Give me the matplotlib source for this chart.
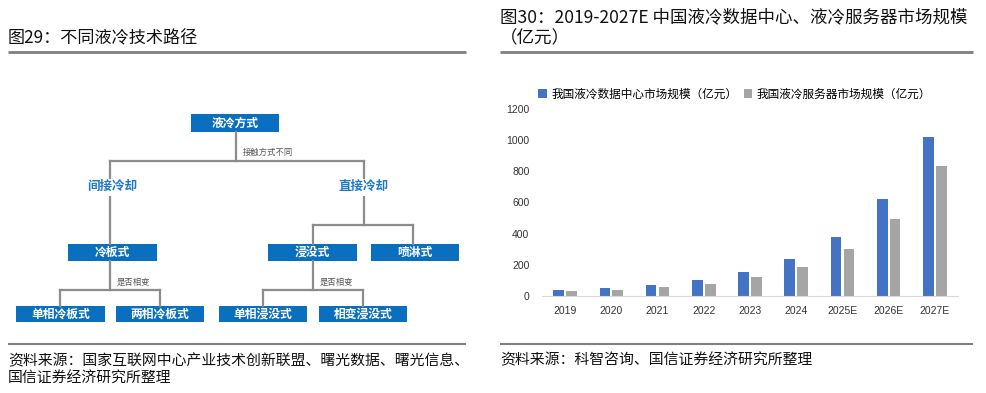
import matplotlib
matplotlib.use("Agg")
import matplotlib.pyplot as plt
from matplotlib.patches import Rectangle

plt.rcParams['font.family'] = ['Noto Sans CJK SC', 'DejaVu Sans']

# 数据
years = ["2019", "2020", "2021", "2022", "2023", "2024", "2025E", "2026E", "2027E"]
idc = [37, 49, 69, 101, 155, 237, 378, 621, 1022]
server = [30, 39, 58, 80, 123, 189, 301, 497, 837]
ser_names = ["我国液冷数据中心市场规模（亿元）", "我国液冷服务器市场规模（亿元）"]
yticks = [0, 200, 400, 600, 800, 1000, 1200]

title_l = "图29：不同液冷技术路径"
title_r = "图30：2019-2027E 中国液冷数据中心、液冷服务器市场规模\n（亿元）"
src_l = "资料来源：国家互联网中心产业技术创新联盟、曙光数据、曙光信息、\n国信证券经济研究所整理"
src_r = "资料来源：科智咨询、国信证券经济研究所整理"

# 树形图: (文字, x0, y0, x1, y1)
boxes = [("液冷方式", 191, 114, 279, 132),
         ("冷板式", 68, 244, 157, 261),
         ("浸没式", 268, 244, 357, 261),
         ("喷淋式", 371, 244, 459, 261),
         ("单相冷板式", 16, 306, 105, 322),
         ("两相冷板式", 116, 306, 204, 322),
         ("单相浸没式", 219, 306, 307, 322),
         ("相变浸没式", 319, 306, 407, 322)]
labels = [("间接冷却", 112, 186), ("直接冷却", 363, 186)]
notes = [("接触方式不同", 243, 152), ("是否相变", 117, 282), ("是否相变", 320, 282)]
lines = [[(236, 132), (236, 161)], [(110, 161), (364, 161)],
         [(110, 161), (110, 178)], [(364, 161), (364, 178)],
         [(110, 197), (110, 244)], [(364, 197), (364, 225)],
         [(313, 225), (413, 225)], [(313, 225), (313, 244)], [(413, 225), (413, 244)],
         [(110, 261), (110, 290)], [(60, 290), (160, 290)],
         [(60, 290), (60, 306)], [(160, 290), (160, 306)],
         [(313, 261), (313, 290)], [(263, 290), (363, 290)],
         [(263, 290), (263, 306)], [(363, 290), (363, 306)]]

blue = "#4472C4"
gray = "#A5A5A5"
box_c = "#0B6FBF"

fig = plt.figure(figsize=(9.87, 3.93), dpi=100)
bg = fig.add_axes([0, 0, 1, 1])
bg.set_xlim(0, 987)
bg.set_ylim(393, 0)
bg.axis("off")

# 标题和分割线
bg.text(8, 38, title_l, fontsize=12.3, color="#111111", va="center", ha="left")
bg.text(500, 28, title_r, fontsize=12.6, color="#111111", va="center", ha="left",
        linespacing=1.25)
for x0, x1 in [(8, 466), (500, 973)]:
    bg.plot([x0, x1], [52, 52], color="#7f7f7f", lw=2, solid_capstyle="butt")
    bg.plot([x0, x1], [344, 344], color="#7f7f7f", lw=1.5, solid_capstyle="butt")
bg.text(8, 370, src_l, fontsize=10.7, color="#111111", va="center", ha="left",
        linespacing=1.35)
bg.text(500, 360, src_r, fontsize=10.7, color="#111111", va="center", ha="left")

# 树形图
for seg in lines:
    bg.plot([seg[0][0], seg[1][0]], [seg[0][1], seg[1][1]], color="#8c8c8c", lw=1.6,
            solid_capstyle="projecting")
for txt, x0, y0, x1, y1 in boxes:
    bg.add_patch(Rectangle((x0, y0), x1 - x0, y1 - y0, facecolor=box_c, edgecolor="none"))
    bg.text((x0 + x1) / 2, (y0 + y1) / 2, txt, color="white", fontsize=8.5,
            fontweight="bold", ha="center", va="center")
for txt, x, y in labels:
    bg.text(x, y, txt, color="#1F78C8", fontsize=9, fontweight="bold", ha="center", va="center")
for txt, x, y in notes:
    bg.text(x, y, txt, color="#555555", fontsize=6, ha="left", va="center")

# 柱状图
ax = fig.add_axes([542 / 987, (393 - 296) / 393, 416 / 987, (296 - 109) / 393])
xs = range(len(years))
w = 0.23
ax.bar([x - 0.14 for x in xs], idc, width=w, color=blue, label=ser_names[0])
ax.bar([x + 0.14 for x in xs], server, width=w, color=gray, label=ser_names[1])
ax.set_xlim(-0.5, len(years) - 0.5)
ax.set_ylim(0, 1200)
ax.set_yticks(yticks)
ax.set_xticks(list(xs))
ax.set_xticklabels(years)
for s in ["top", "right", "left"]:
    ax.spines[s].set_visible(False)
ax.spines["bottom"].set_color("#d9d9d9")
ax.tick_params(axis="both", length=0, labelsize=7.5, colors="#333333")
ax.tick_params(axis="y", pad=9)
ax.tick_params(axis="x", pad=7)
for lab in ax.get_xticklabels() + ax.get_yticklabels():
    lab.set_family(["Liberation Sans", "DejaVu Sans"])
ax.legend(loc="lower left", bbox_to_anchor=(-0.02, 1.02), ncol=2, frameon=False,
          fontsize=8.4, handlelength=0.7, handleheight=0.7, handletextpad=0.4,
          columnspacing=0.6, borderaxespad=0)

fig.savefig("out.png", dpi=100)
